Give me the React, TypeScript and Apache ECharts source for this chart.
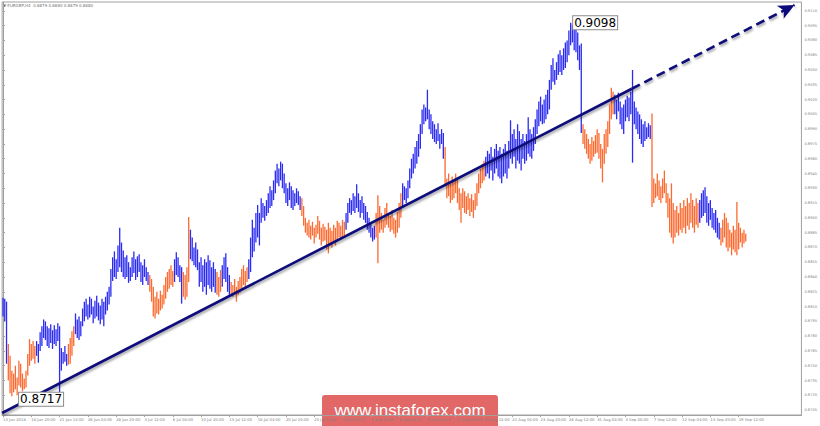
import React, { useEffect, useRef } from "react";
import * as echarts from "echarts";

// ---- data (prices in pips: 8819 -> 0.8819) ----
const timeLabels = [
  "14 Jun 2018", "18 Jun 20:00", "21 Jun 12:00", "26 Jun 04:00", "28 Jun 20:00",
  "3 Jul 12:00", "6 Jul 04:00", "10 Jul 20:00", "13 Jul 12:00", "18 Jul 04:00",
  "20 Jul 20:00", "25 Jul 12:00", "30 Jul 04:00", "1 Aug 20:00", "6 Aug 12:00",
  "9 Aug 04:00", "13 Aug 20:00", "16 Aug 12:00", "21 Aug 04:00", "23 Aug 20:00",
  "28 Aug 12:00", "31 Aug 04:00", "4 Sep 20:00", "7 Sep 12:00", "12 Sep 04:00",
  "14 Sep 20:00", "19 Sep 12:00",
];
const barsPerLabel = 16;
const totalSlots = 452;

const yTickValues = [
  0.8705, 0.872, 0.8735, 0.875, 0.8765, 0.878, 0.8795, 0.881, 0.8825, 0.884,
  0.8855, 0.887, 0.8885, 0.89, 0.8915, 0.893, 0.8945, 0.896, 0.8975, 0.899,
  0.9005, 0.902, 0.9035, 0.905, 0.9065, 0.908, 0.9095, 0.911,
];

const highPips = [
  8819, 8818, 8815, 8772, 8760, 8745, 8742, 8750, 8738, 8755,
  8752, 8742, 8737, 8745, 8762, 8777, 8772, 8775, 8770, 8775,
  8772, 8784, 8790, 8797, 8795, 8790, 8788, 8792, 8786, 8791,
  8787, 8793, 8790, 8768, 8764, 8770, 8762, 8772, 8778, 8785,
  8790, 8803, 8797, 8800, 8795, 8808, 8815, 8818, 8812, 8820,
  8818, 8810, 8816, 8821, 8814, 8811, 8818, 8815, 8820, 8825,
  8830, 8848, 8860, 8866, 8858, 8872, 8890, 8875, 8867, 8860,
  8862, 8855, 8850, 8860, 8866, 8858, 8861, 8863, 8855, 8852,
  8858, 8850, 8845, 8842, 8838, 8830, 8820, 8825, 8818, 8826,
  8822, 8832, 8840, 8845, 8848, 8852, 8846, 8858, 8865, 8860,
  8852, 8850, 8845, 8842, 8850, 8901, 8888, 8880, 8870, 8875,
  8868, 8855, 8860, 8852, 8858, 8855, 8862, 8857, 8850, 8855,
  8848, 8845, 8840, 8847, 8852, 8860, 8864, 8850, 8842, 8835,
  8832, 8838, 8830, 8836, 8840, 8848, 8852, 8846, 8850, 8858,
  8880, 8898, 8890, 8905, 8913, 8905, 8920, 8915, 8912, 8918,
  8925, 8932, 8928, 8938, 8948, 8955, 8950, 8957, 8955, 8945,
  8935, 8930, 8936, 8932, 8928, 8925, 8930, 8927, 8922, 8920,
  8912, 8900, 8895, 8898, 8892, 8896, 8890, 8893, 8902, 8897,
  8890, 8894, 8891, 8888, 8895, 8890, 8887, 8893, 8890, 8897,
  8895, 8892, 8898, 8896, 8905, 8915, 8920, 8918, 8925, 8922,
  8934, 8925, 8918, 8922, 8915, 8912, 8906, 8900, 8895, 8890,
  8892, 8905, 8923, 8912, 8905, 8898, 8910, 8915, 8905, 8902,
  8908, 8900, 8898, 8906, 8915, 8925, 8935, 8932, 8930, 8938,
  8950, 8960, 8965, 8972, 8978, 8985, 8995, 9010, 9015, 9012,
  9030, 9010, 9005, 8998, 8995, 8990, 8996, 8985, 8990, 8986,
  8972, 8940, 8945, 8935, 8942, 8938, 8945, 8940, 8930, 8925,
  8930, 8927, 8922, 8925, 8920, 8924, 8918, 8925, 8935, 8945,
  8950, 8955, 8958, 8962, 8968, 8965, 8972, 8962, 8970, 8975,
  8968, 8972, 8965, 8970, 8975, 8968, 8978, 8999, 8985, 8990,
  8980, 8995, 8988, 8980, 8985, 8978, 8985, 9002, 8990, 8985,
  8992, 9000, 9010, 9018, 9023, 9015, 9020, 9025, 9030, 9040,
  9055, 9062, 9050, 9058, 9066, 9070, 9065, 9072, 9078, 9080,
  9090, 9098, 9096, 9092, 9094, 9088, 9075, 9077, 8995, 8990,
  8985, 8980, 8975, 8982, 8978, 8984, 8990, 8986, 8975, 8970,
  8985, 8990, 8998, 9015, 9032, 9028, 9025, 9020, 9027, 9018,
  9012, 9015, 9020, 9024, 9022, 9028, 9050, 9018, 9012, 9008,
  9005, 9000, 8995, 8998, 8992, 8996, 8994, 9006, 8940, 8935,
  8945, 8938, 8932, 8940, 8948, 8935, 8925, 8920, 8935, 8915,
  8908, 8912, 8905, 8915, 8910, 8918, 8912, 8920, 8915, 8925,
  8918, 8912, 8920, 8915, 8918, 8925, 8928, 8931, 8922, 8915,
  8918, 8910, 8905, 8908, 8900, 8895, 8890, 8898, 8905, 8900,
  8895, 8888, 8885, 8892, 8888, 8916, 8895, 8890, 8885, 8888, 8884,
];

const lowPips = [
  8800, 8795, 8752, 8735, 8722, 8719, 8723, 8726, 8720, 8730,
  8728, 8724, 8726, 8728, 8740, 8750, 8755, 8757, 8752, 8760,
  8753, 8765, 8770, 8778, 8776, 8770, 8768, 8773, 8767, 8772,
  8770, 8775, 8717, 8745, 8752, 8754, 8750, 8751, 8752, 8760,
  8770, 8782, 8778, 8776, 8780, 8790, 8795, 8800, 8797, 8799,
  8802, 8793, 8798, 8800, 8796, 8792, 8797, 8790, 8802, 8806,
  8812, 8820, 8836, 8840, 8838, 8845, 8850, 8845, 8840, 8838,
  8840, 8834, 8836, 8840, 8844, 8837, 8840, 8845, 8835, 8832,
  8840, 8836, 8832, 8825, 8815, 8800, 8798, 8803, 8802, 8806,
  8808, 8812, 8818, 8825, 8828, 8832, 8830, 8835, 8842, 8840,
  8835, 8813, 8820, 8817, 8820, 8835, 8858, 8856, 8852, 8850,
  8847, 8830, 8835, 8825, 8830, 8822, 8832, 8828, 8825, 8830,
  8824, 8822, 8820, 8825, 8830, 8838, 8835, 8825, 8822, 8823,
  8820, 8822, 8815, 8822, 8824, 8828, 8832, 8830, 8835, 8838,
  8845, 8860, 8866, 8875, 8880, 8872, 8895, 8900, 8897, 8902,
  8905, 8910, 8912, 8918, 8925, 8935, 8932, 8938, 8930, 8925,
  8915, 8912, 8918, 8910, 8908, 8912, 8915, 8913, 8908, 8902,
  8892, 8885, 8882, 8880, 8878, 8882, 8874, 8880, 8884, 8878,
  8872, 8876, 8877, 8868, 8864, 8872, 8870, 8875, 8872, 8876,
  8880, 8878, 8880, 8882, 8888, 8895, 8905, 8903, 8907, 8905,
  8910, 8906, 8900, 8905, 8898, 8895, 8888, 8885, 8880, 8876,
  8878, 8880, 8854, 8885, 8888, 8885, 8890, 8893, 8890, 8886,
  8888, 8884, 8880, 8885, 8890, 8900, 8912, 8918, 8915, 8920,
  8930, 8940, 8945, 8950, 8955, 8962, 8970, 8985, 8995, 8998,
  9000, 8990, 8985, 8980, 8977, 8975, 8978, 8970, 8975, 8960,
  8932, 8920, 8922, 8915, 8918, 8920, 8925, 8915, 8908, 8895,
  8910, 8905, 8904, 8908, 8902, 8906, 8900, 8908, 8912, 8925,
  8930, 8935, 8938, 8942, 8945, 8940, 8948, 8938, 8945, 8950,
  8942, 8940, 8935, 8942, 8945, 8940, 8950, 8960, 8955, 8962,
  8950, 8958, 8955, 8948, 8960, 8955, 8958, 8965, 8962, 8960,
  8968, 8975, 8985, 8993, 8998, 8995, 8996, 9000, 9005, 9010,
  9030, 9038, 9035, 9040, 9045, 9048, 9045, 9050, 9052, 9058,
  9065, 9075, 9078, 9070, 9068, 9060, 9050, 8986, 8975, 8970,
  8965, 8960, 8955, 8958, 8962, 8965, 8966, 8960, 8950, 8936,
  8955, 8965, 8972, 8985, 9000, 9005, 9005, 9000, 9008, 8995,
  8990, 8985, 8998, 9002, 8998, 9005, 8956, 8995, 8990, 8985,
  8980, 8975, 8972, 8978, 8980, 8982, 8980, 8911, 8915, 8920,
  8922, 8918, 8915, 8920, 8925, 8915, 8900, 8885, 8880, 8874,
  8880, 8885, 8882, 8888, 8885, 8890, 8884, 8892, 8888, 8895,
  8890, 8885, 8893, 8890, 8895, 8900, 8902, 8905, 8895, 8892,
  8898, 8890, 8888, 8885, 8880, 8878, 8872, 8875, 8880, 8870,
  8866, 8870, 8862, 8868, 8865, 8862, 8868, 8875, 8870, 8874, 8876,
];

// wave colouring: [first bar index, 0 = up wave (blue), 1 = down wave (orange)]
const waveRuns = [
  [0, 0], [3, 1], [19, 0], [37, 1], [41, 0], [83, 1], [97, 0], [102, 1],
  [106, 0], [121, 1], [124, 0], [129, 1], [139, 0], [169, 1], [194, 0],
  [211, 1], [226, 0], [250, 1], [273, 0], [328, 1], [346, 0], [367, 1],
  [394, 0], [406, 1],
];

const lastClose = 0.888;
const titleText = "EURGBP,H4  0.8879 0.8880 0.8879 0.8880";
const peakMark = { index: 321, value: 0.9098, text: "0.9098" };
const lowMark = { index: 32, value: 0.8717, text: "0.8717" };
const trendSolid = [[-0.5, 0.8702], [355.6, 0.9031]];
const trendDashed = [[355.6, 0.9031], [447.6, 0.9116]];

const BLUE = "#2b2bf2";
const ORANGE = "#fb6a30";
const NAVY = "#0a0a7a";

function waveOf(i: number): number {
  let c = 0;
  for (const [start, col] of waveRuns) {
    if (i >= start) c = col;
  }
  return c;
}

export default function App() {
  const ref = useRef<HTMLDivElement>(null);

  useEffect(() => {
    if (!ref.current) return;
    const chart = echarts.init(ref.current, undefined, { renderer: "svg" });
    const n = Math.min(highPips.length, lowPips.length);
    const barData: number[][] = [];
    for (let i = 0; i < n; i++) {
      barData.push([i, highPips[i] / 10000, lowPips[i] / 10000, waveOf(i)]);
    }
    const xTicks = timeLabels.map((_, k) => k * barsPerLabel);
    const lineShadow = {
      shadowColor: "rgba(0,0,0,0.35)",
      shadowBlur: 2,
      shadowOffsetX: 1,
      shadowOffsetY: 2,
    };

    chart.setOption({
      animation: false,
      backgroundColor: "#ffffff",
      grid: {
        left: 1,
        top: 2,
        right: 18,
        bottom: 11,
        show: true,
        borderColor: "#a0a0a0",
        borderWidth: 1,
        backgroundColor: "transparent",
      },
      xAxis: {
        type: "value",
        min: -0.5,
        max: totalSlots - 0.5,
        splitLine: { show: false },
        axisLine: { show: true, lineStyle: { color: "#a0a0a0", width: 1 } },
        axisTick: {
          show: true,
          customValues: xTicks,
          length: 2,
          lineStyle: { color: "#a0a0a0" },
        },
        axisLabel: {
          customValues: xTicks,
          formatter: (v: number) => timeLabels[Math.round(v / barsPerLabel)] || "",
          align: "left",
          margin: 2,
          fontSize: 3.8,
          color: "#808080",
          fontFamily: "DejaVu Sans",
        },
      },
      yAxis: {
        type: "value",
        position: "right",
        min: 0.87,
        max: 0.9119,
        splitLine: { show: false },
        axisLine: { show: true, lineStyle: { color: "#a0a0a0", width: 1 } },
        axisTick: {
          show: true,
          customValues: yTickValues,
          length: 2,
          lineStyle: { color: "#a0a0a0" },
        },
        axisLabel: {
          customValues: yTickValues,
          formatter: (v: number) => v.toFixed(4),
          margin: 3,
          fontSize: 3.6,
          color: "#808080",
          fontFamily: "DejaVu Sans",
        },
      },
      series: [
        {
          type: "custom",
          data: barData,
          dimensions: ["idx", "high", "low", "wave"],
          encode: { x: 0, y: [1, 2] },
          clip: true,
          renderItem: (_params: any, api: any) => {
            const i = api.value(0);
            const top = api.coord([i, api.value(1)]);
            const bot = api.coord([i, api.value(2)]);
            return {
              type: "line",
              shape: { x1: top[0], y1: top[1], x2: bot[0], y2: bot[1] },
              style: { stroke: api.value(3) ? ORANGE : BLUE, lineWidth: 1.3 },
            };
          },
          markLine: {
            silent: true,
            symbol: "none",
            label: { show: false },
            emphasis: { disabled: true },
            data: [
              [
                {
                  coord: trendSolid[0],
                  lineStyle: { color: NAVY, width: 2.6, type: "solid", ...lineShadow },
                },
                { coord: trendSolid[1] },
              ],
              [
                {
                  coord: trendDashed[0],
                  lineStyle: { color: NAVY, width: 2.6, type: [9, 5], ...lineShadow },
                },
                { coord: trendDashed[1], symbol: "arrow", symbolSize: [11, 16] },
              ],
              {
                yAxis: lastClose,
                lineStyle: { opacity: 0 },
                label: {
                  show: true,
                  position: "end",
                  distance: 1,
                  formatter: () => lastClose.toFixed(4),
                  backgroundColor: "#6e7c8c",
                  color: "#ffffff",
                  fontSize: 3.8,
                  fontFamily: "DejaVu Sans",
                  padding: [1, 2],
                },
              },
            ],
          },
          markPoint: {
            silent: true,
            symbol: "circle",
            symbolSize: 1,
            itemStyle: { color: "rgba(0,0,0,0)" },
            data: [
              {
                coord: [peakMark.index, peakMark.value],
                label: {
                  show: true,
                  position: "right",
                  distance: 2,
                  formatter: peakMark.text,
                  color: "#000",
                  fontSize: 12,
                  fontFamily: "DejaVu Sans",
                  backgroundColor: "#ffffff",
                  borderColor: "#8c8c8c",
                  borderWidth: 1,
                  padding: [1, 1, 0, 1],
                },
              },
              {
                coord: [lowMark.index, lowMark.value],
                label: {
                  show: true,
                  position: "left",
                  distance: 0,
                  offset: [4, 1],
                  formatter: lowMark.text,
                  color: "#000",
                  fontSize: 12,
                  fontFamily: "DejaVu Sans",
                  backgroundColor: "#ffffff",
                  borderColor: "#8c8c8c",
                  borderWidth: 1,
                  padding: [1, 1, 0, 1],
                },
              },
            ],
          },
        },
      ],
      graphic: [
        {
          type: "text",
          left: 3,
          top: 3,
          style: {
            text: "▼ " + titleText,
            fontSize: 4,
            fill: "#707070",
            fontFamily: "DejaVu Sans",
          },
        },
        {
          type: "group",
          left: 322,
          top: 395,
          children: [
            {
              type: "rect",
              shape: { x: 0, y: 0, width: 176, height: 36, r: 3 },
              style: { fill: "#e26868" },
            },
            {
              type: "text",
              x: 88,
              y: 15,
              style: {
                text: "www.instaforex.com",
                fontSize: 17,
                fill: "#ffffff",
                fontFamily: "Liberation Sans",
                align: "center",
                verticalAlign: "middle",
              },
            },
          ],
        },
      ],
    });

    return () => chart.dispose();
  }, []);

  return (
    <div
      ref={ref}
      style={{ position: "fixed", left: 0, top: 0, width: 820, height: 426, background: "#fff" }}
    />
  );
}
